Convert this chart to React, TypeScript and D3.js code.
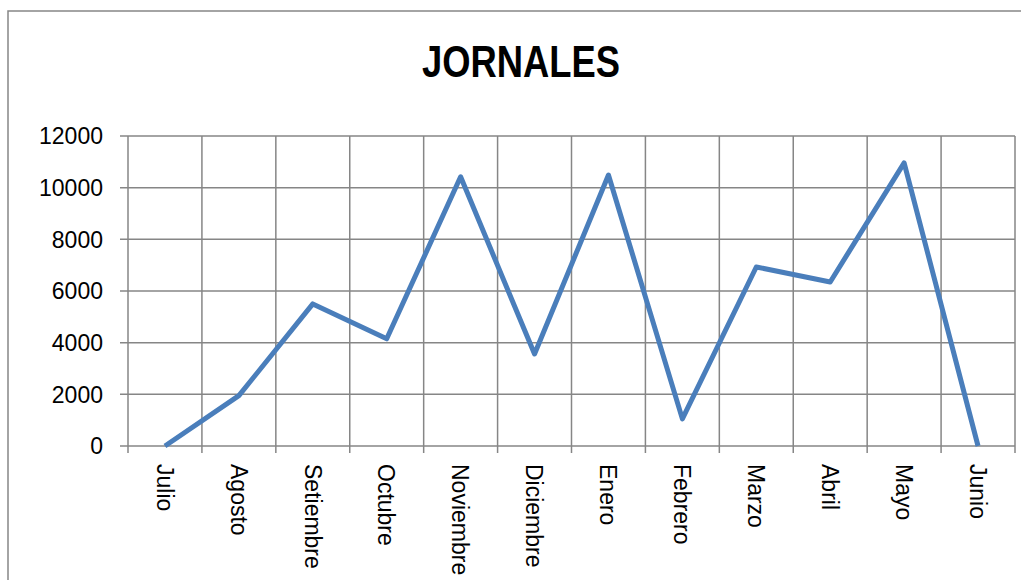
import React, { useEffect, useRef } from 'react';
import * as d3 from 'd3';

const months = [
  'Julio', 'Agosto', 'Setiembre', 'Octubre', 'Noviembre', 'Diciembre',
  'Enero', 'Febrero', 'Marzo', 'Abril', 'Mayo', 'Junio',
];
const jornales = [0, 1950, 5500, 4150, 10420, 3560, 10490, 1050, 6930, 6350, 10960, 0];
const yTicks = [0, 2000, 4000, 6000, 8000, 10000, 12000];

const App: React.FC = () => {
  const svgRef = useRef<SVGSVGElement>(null);

  useEffect(() => {
    if (!svgRef.current) return;
    const svg = d3.select(svgRef.current);
    svg.selectAll('*').remove();

    const left = 128, right = 1015, top = 136, bottom = 446;
    const grid = '#868686';

    // outer chart border (runs off the right and bottom edge)
    svg.append('rect')
      .attr('x', 8).attr('y', 11)
      .attr('width', 1040).attr('height', 620)
      .attr('fill', '#fff')
      .attr('stroke', grid).attr('stroke-width', 1.5);

    svg.append('text')
      .attr('x', 521).attr('y', 77)
      .attr('text-anchor', 'middle')
      .attr('font-family', 'Liberation Sans, Arial, sans-serif')
      .attr('font-weight', 'bold')
      .attr('font-size', 44)
      .attr('textLength', 198)
      .attr('lengthAdjust', 'spacingAndGlyphs')
      .text('JORNALES');

    const x = d3.scaleBand().domain(months).range([left, right]);
    const y = d3.scaleLinear().domain([0, 12000]).range([bottom, top]);

    const g = svg.append('g');

    // horizontal gridlines + left ticks
    yTicks.forEach(t => {
      g.append('line')
        .attr('x1', left - 8).attr('x2', right)
        .attr('y1', y(t)).attr('y2', y(t))
        .attr('stroke', grid).attr('stroke-width', 1.5);
      g.append('text')
        .attr('x', 103).attr('y', y(t))
        .attr('dy', '0.36em')
        .attr('text-anchor', 'end')
        .attr('font-family', 'Liberation Sans, Arial, sans-serif')
        .attr('font-size', 23)
        .text(t);
    });

    // vertical gridlines at category boundaries, with tick marks below
    const bounds = months.map(m => x(m)!).concat([right]);
    bounds.forEach(bx => {
      g.append('line')
        .attr('x1', bx).attr('x2', bx)
        .attr('y1', top).attr('y2', bottom + 7)
        .attr('stroke', grid).attr('stroke-width', 1.5);
    });

    // category labels, rotated
    months.forEach(m => {
      const cx = x(m)! + x.bandwidth() / 2;
      g.append('text')
        .attr('transform', `translate(${cx},464) rotate(90)`)
        .attr('dy', '0.36em')
        .attr('font-family', 'Liberation Sans, Arial, sans-serif')
        .attr('font-size', 23)
        .text(m);
    });

    const line = d3.line<number>()
      .x((_, i) => x(months[i])! + x.bandwidth() / 2)
      .y(d => y(d));

    g.append('path')
      .datum(jornales)
      .attr('d', line)
      .attr('fill', 'none')
      .attr('stroke', '#4a7ebb')
      .attr('stroke-width', 5)
      .attr('stroke-linejoin', 'round');
  }, []);

  return (
    <svg
      ref={svgRef}
      width={1021}
      height={580}
      style={{ position: 'absolute', left: 0, top: 0, background: '#fff' }}
    />
  );
};

export default App;
